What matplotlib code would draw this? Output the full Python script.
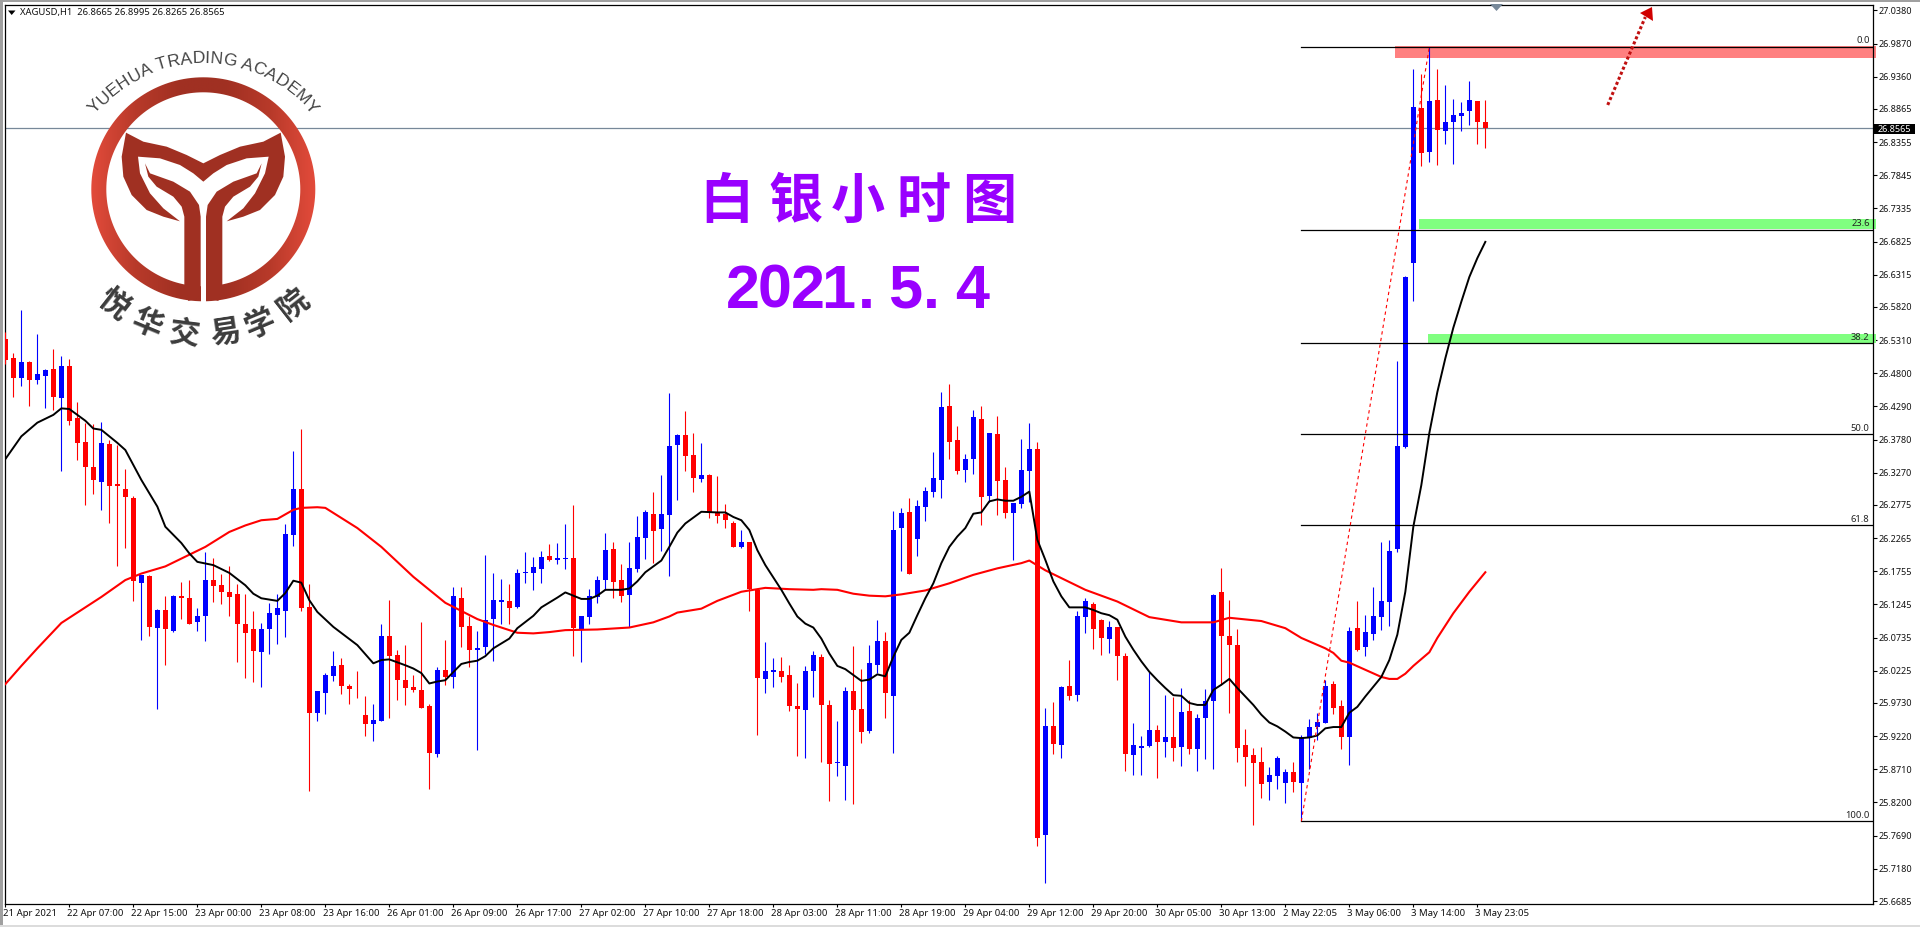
"""
XAGUSD H1 chart, MT4 style, with the academy logo on top.
"""

import numpy as np
import matplotlib
matplotlib.use("Agg")
import matplotlib.pyplot as plt
from matplotlib.colors import LinearSegmentedColormap
from matplotlib.patches import PathPatch, Polygon, Rectangle
from matplotlib.path import Path
from matplotlib.textpath import TextToPath
from matplotlib.font_manager import FontProperties
from matplotlib.transforms import ScaledTranslation

# ── Candles ────────────────────────────────────────────────────────────────────
opens = [
    26.532, 26.503, 26.472, 26.497, 26.469, 26.476, 26.487, 26.442, 26.491, 26.411,
    26.374, 26.336, 26.313, 26.371, 26.310, 26.302, 26.288, 26.158, 26.168, 26.088,
    26.116, 26.084, 26.138, 26.134, 26.097, 26.107, 26.162, 26.154, 26.144, 26.141,
    26.094, 26.087, 26.051, 26.087, 26.108, 26.114, 26.231, 26.302, 26.121, 25.958,
    25.988, 26.015, 26.031, 25.999, 25.995, 25.955, 25.941, 25.945, 26.076, 26.047,
    26.008, 25.998, 25.993, 25.968, 25.895, 26.024, 26.013, 26.134, 26.091, 26.055,
    26.059, 26.102, 26.129, 26.130, 26.121, 26.173, 26.173, 26.179, 26.199, 26.193,
    26.194, 26.196, 26.085, 26.105, 26.136, 26.162, 26.210, 26.162, 26.139, 26.179,
    26.227, 26.264, 26.241, 26.262, 26.370, 26.385, 26.354, 26.317, 26.324, 26.265,
    26.264, 26.250, 26.213, 26.221, 26.147, 26.010, 26.021, 26.022, 26.016, 25.968,
    25.962, 26.022, 26.044, 25.970, 25.881, 25.876, 25.991, 25.964, 25.930, 26.031,
    26.068, 25.984, 26.242, 26.267, 26.225, 26.274, 26.297, 26.316, 26.430, 26.377,
    26.331, 26.348, 26.410, 26.291, 26.387, 26.316, 26.265, 26.279, 26.330, 26.364,
    25.770, 25.938, 25.909, 25.999, 25.985, 26.105, 26.125, 26.101, 26.071, 26.090,
    26.045, 25.893, 25.904, 25.907, 25.932, 25.913, 25.921, 25.905, 25.961, 25.902,
    25.950, 25.976, 26.144, 26.076, 26.062, 25.909, 25.893, 25.882, 25.852, 25.861,
    25.850, 25.867, 25.850, 25.919, 25.936, 25.942, 26.002, 25.968, 25.921, 26.088,
    26.059, 26.079, 26.105, 26.128, 26.210, 26.367, 26.650, 26.888, 26.820, 26.900,
    26.852, 26.866, 26.876, 26.883, 26.899, 26.8665,
]
highs = [
    26.544, 26.511, 26.578, 26.499, 26.540, 26.486, 26.517, 26.507, 26.502, 26.436,
    26.403, 26.402, 26.405, 26.377, 26.370, 26.333, 26.292, 26.170, 26.170, 26.118,
    26.138, 26.139, 26.159, 26.162, 26.119, 26.205, 26.196, 26.171, 26.184, 26.156,
    26.141, 26.114, 26.096, 26.127, 26.141, 26.248, 26.360, 26.394, 26.156, 25.991,
    26.019, 26.053, 26.042, 26.002, 26.022, 25.984, 25.972, 26.094, 26.131, 26.054,
    26.062, 26.016, 26.098, 25.972, 26.028, 26.070, 26.151, 26.151, 26.107, 26.084,
    26.201, 26.173, 26.164, 26.156, 26.179, 26.205, 26.198, 26.207, 26.218, 26.219,
    26.248, 26.277, 26.107, 26.148, 26.168, 26.234, 26.221, 26.187, 26.221, 26.261,
    26.270, 26.297, 26.324, 26.450, 26.387, 26.422, 26.388, 26.373, 26.325, 26.322,
    26.279, 26.253, 26.239, 26.221, 26.147, 26.067, 26.042, 26.044, 26.031, 26.004,
    26.030, 26.053, 26.049, 25.978, 25.945, 25.998, 26.061, 26.025, 26.062, 26.101,
    26.082, 26.268, 26.273, 26.288, 26.285, 26.305, 26.359, 26.451, 26.464, 26.399,
    26.356, 26.424, 26.430, 26.388, 26.414, 26.336, 26.281, 26.379, 26.404, 26.374,
    25.965, 25.975, 25.999, 26.039, 26.115, 26.135, 26.128, 26.102, 26.099, 26.090,
    26.050, 25.942, 25.922, 26.021, 25.939, 25.985, 25.982, 25.996, 25.978, 25.956,
    25.995, 26.141, 26.181, 26.132, 26.087, 25.933, 25.904, 25.905, 25.875, 25.892,
    25.872, 25.882, 25.924, 25.948, 25.958, 26.008, 26.007, 25.978, 26.090, 26.130,
    26.108, 26.151, 26.221, 26.224, 26.499, 26.630, 26.948, 26.940, 26.981, 26.948,
    26.923, 26.902, 26.897, 26.929, 26.899, 26.8995,
]
lows = [
    26.494, 26.444, 26.460, 26.429, 26.464, 26.426, 26.424, 26.329, 26.400, 26.347,
    26.277, 26.294, 26.270, 26.250, 26.183, 26.212, 26.130, 26.070, 26.076, 25.964,
    26.031, 26.082, 26.102, 26.095, 26.084, 26.068, 26.128, 26.125, 26.107, 26.036,
    26.011, 26.005, 25.998, 26.048, 26.064, 26.074, 26.214, 26.114, 25.837, 25.945,
    25.956, 26.007, 25.987, 25.972, 25.981, 25.922, 25.915, 25.945, 25.950, 25.978,
    25.970, 25.990, 25.965, 25.841, 25.890, 26.001, 25.996, 26.059, 26.028, 25.901,
    26.048, 26.038, 26.095, 26.095, 26.119, 26.158, 26.147, 26.158, 26.191, 26.187,
    26.179, 26.045, 26.036, 26.095, 26.127, 26.147, 26.134, 26.128, 26.090, 26.174,
    26.194, 26.188, 26.207, 26.168, 26.285, 26.330, 26.297, 26.313, 26.257, 26.250,
    26.242, 26.213, 26.211, 26.114, 25.924, 25.988, 25.998, 26.005, 25.961, 25.892,
    25.888, 25.982, 25.882, 25.822, 25.861, 25.824, 25.818, 25.912, 25.927, 26.019,
    25.950, 25.896, 26.176, 26.171, 26.199, 26.253, 26.290, 26.288, 26.348, 26.325,
    26.313, 26.325, 26.247, 26.282, 26.262, 26.258, 26.193, 26.273, 26.282, 25.753,
    25.696, 25.895, 25.889, 25.978, 25.976, 26.081, 26.056, 26.047, 26.050, 26.008,
    25.869, 25.862, 25.862, 25.905, 25.858, 25.890, 25.884, 25.876, 25.895, 25.869,
    25.887, 25.872, 26.001, 25.958, 25.882, 25.845, 25.786, 25.827, 25.824, 25.841,
    25.819, 25.836, 25.791, 25.872, 25.916, 25.942, 25.956, 25.902, 25.878, 26.053,
    26.045, 26.070, 26.085, 26.091, 26.205, 26.365, 26.591, 26.799, 26.805, 26.800,
    26.833, 26.802, 26.852, 26.862, 26.833, 26.8265,
]
closes = [
    26.501, 26.472, 26.497, 26.469, 26.479, 26.485, 26.444, 26.491, 26.407, 26.372,
    26.336, 26.316, 26.373, 26.306, 26.306, 26.289, 26.160, 26.170, 26.090, 26.116,
    26.086, 26.138, 26.135, 26.095, 26.107, 26.162, 26.153, 26.144, 26.136, 26.095,
    26.081, 26.053, 26.087, 26.111, 26.119, 26.233, 26.302, 26.119, 25.958, 25.991,
    26.016, 26.030, 25.999, 25.995, 25.994, 25.941, 25.947, 26.076, 26.045, 26.008,
    25.996, 25.993, 25.965, 25.896, 26.024, 26.013, 26.138, 26.090, 26.054, 26.058,
    26.101, 26.131, 26.131, 26.119, 26.173, 26.174, 26.182, 26.198, 26.193, 26.196,
    26.196, 26.088, 26.107, 26.138, 26.162, 26.208, 26.159, 26.138, 26.181, 26.228,
    26.267, 26.238, 26.264, 26.368, 26.385, 26.353, 26.319, 26.324, 26.267, 26.261,
    26.254, 26.213, 26.221, 26.148, 26.011, 26.022, 26.024, 26.013, 25.968, 25.964,
    26.022, 26.047, 25.970, 25.879, 25.882, 25.991, 25.962, 25.928, 26.035, 26.068,
    25.988, 26.239, 26.265, 26.171, 26.276, 26.299, 26.319, 26.428, 26.374, 26.330,
    26.348, 26.413, 26.290, 26.388, 26.314, 26.265, 26.281, 26.331, 26.364, 25.766,
    25.938, 25.910, 25.998, 25.984, 26.107, 26.130, 26.087, 26.073, 26.090, 26.045,
    25.895, 25.909, 25.907, 25.932, 25.913, 25.921, 25.904, 25.959, 25.902, 25.950,
    25.976, 26.139, 26.076, 26.062, 25.904, 25.890, 25.881, 25.849, 25.862, 25.889,
    25.867, 25.852, 25.919, 25.936, 25.944, 25.999, 25.965, 25.921, 26.084, 26.055,
    26.082, 26.107, 26.130, 26.207, 26.368, 26.628, 26.889, 26.819, 26.899, 26.854,
    26.866, 26.877, 26.880, 26.900, 26.866, 26.8565,
]

# ── Moving averages, read at selected bars ─────────────────────────────────────
black_bars = [
    0, 2, 4, 6, 7, 8, 10, 11, 12, 14, 15, 17, 19, 20, 22, 23, 24, 26, 28, 30, 31, 32,
    34, 35, 36, 37, 38, 39, 41, 44, 46, 47, 48, 50, 51, 52, 53, 54, 55, 57, 58, 59,
    60, 61, 63, 64, 66, 67, 69, 70, 72, 73, 74, 75, 77, 78, 79, 80, 82, 83, 84, 85,
    86, 87, 89, 90, 91, 92, 93, 94, 95, 97, 98, 99, 100, 101, 102, 103, 104, 105,
    106, 107, 108, 109, 110, 111, 112, 113, 114, 115, 116, 117, 118, 119, 120, 121,
    122, 123, 124, 125, 126, 127, 128, 129, 130, 131, 132, 133, 134, 135, 136, 137,
    138, 139, 140, 141, 142, 143, 144, 145, 146, 147, 148, 149, 150, 151, 152, 153,
    154, 155, 156, 157, 158, 159, 160, 161, 162, 163, 164, 165, 166, 167, 168, 169,
    170, 171, 172, 173, 174, 175, 176, 177, 178, 179, 180, 181, 182, 183, 184, 185,
]
black_ma = [
    26.348, 26.383, 26.404, 26.416, 26.426, 26.425, 26.407, 26.395, 26.393, 26.373,
    26.362, 26.316, 26.275, 26.244, 26.219, 26.203, 26.190, 26.185, 26.173, 26.154,
    26.141, 26.134, 26.130, 26.142, 26.161, 26.158, 26.131, 26.113, 26.090, 26.062,
    26.034, 26.039, 26.040, 26.031, 26.026, 26.019, 26.003, 26.006, 26.008, 26.033,
    26.036, 26.038, 26.045, 26.057, 26.072, 26.088, 26.107, 26.120, 26.135, 26.143,
    26.133, 26.133, 26.138, 26.147, 26.147, 26.149, 26.160, 26.174, 26.192, 26.213,
    26.235, 26.249, 26.258, 26.267, 26.266, 26.266, 26.259, 26.254, 26.239, 26.208,
    26.185, 26.147, 26.126, 26.106, 26.095, 26.089, 26.072, 26.049, 26.030, 26.025,
    26.016, 26.007, 26.009, 26.017, 26.014, 26.044, 26.070, 26.081, 26.108, 26.134,
    26.157, 26.188, 26.213, 26.229, 26.242, 26.264, 26.266, 26.283, 26.286, 26.284,
    26.284, 26.290, 26.298, 26.224, 26.193, 26.160, 26.137, 26.120, 26.120, 26.120,
    26.116, 26.111, 26.108, 26.101, 26.075, 26.055, 26.037, 26.021, 26.008, 25.996,
    25.985, 25.984, 25.973, 25.970, 25.970, 25.993, 26.001, 26.010, 25.996, 25.983,
    25.970, 25.955, 25.943, 25.937, 25.929, 25.920, 25.919, 25.920, 25.923, 25.934,
    25.936, 25.936, 25.958, 25.967, 25.983, 25.998, 26.013, 26.039, 26.078, 26.144,
    26.244, 26.308, 26.388, 26.451, 26.503, 26.550, 26.590, 26.628, 26.657, 26.682,
]
red_bars = [
    0, 2, 4, 7, 9, 12, 15, 17, 20, 25, 28, 30, 32, 34, 36, 37, 39, 40, 44, 47, 51, 55,
    59, 61, 64, 66, 68, 70, 74, 78, 81, 83, 84, 87, 89, 92, 95, 98, 101, 102, 104,
    106, 108, 110, 112, 115, 118, 121, 124, 127, 128, 130, 132, 135, 139, 143, 147,
    151, 153, 157, 160, 162, 165, 166, 167, 168, 170, 172, 173, 174, 175, 176, 178,
    179, 181, 183, 185,
]
red_ma = [
    26.002, 26.030, 26.057, 26.096, 26.112, 26.136, 26.162, 26.172, 26.183, 26.213,
    26.236, 26.246, 26.254, 26.256, 26.270, 26.273, 26.274, 26.273, 26.242, 26.213,
    26.167, 26.127, 26.102, 26.093, 26.081, 26.080, 26.082, 26.085, 26.086, 26.089,
    26.097, 26.106, 26.112, 26.118, 26.130, 26.144, 26.150, 26.148, 26.147, 26.148,
    26.147, 26.141, 26.138, 26.137, 26.140, 26.146, 26.157, 26.170, 26.180, 26.188,
    26.192, 26.177, 26.165, 26.147, 26.129, 26.105, 26.097, 26.097, 26.104, 26.099,
    26.088, 26.073, 26.057, 26.050, 26.038, 26.035, 26.024, 26.013, 26.010, 26.010,
    26.018, 26.030, 26.051, 26.073, 26.111, 26.144, 26.174,
]

# ── Axis labels ────────────────────────────────────────────────────────────────
price_ticks = [
    "27.0380", "26.9870", "26.9360", "26.8865", "26.8355", "26.7845", "26.7335",
    "26.6825", "26.6315", "26.5820", "26.5310", "26.4800", "26.4290", "26.3780",
    "26.3270", "26.2775", "26.2265", "26.1755", "26.1245", "26.0735", "26.0225",
    "25.9730", "25.9220", "25.8710", "25.8200", "25.7690", "25.7180", "25.6685",
]
time_labels = [
    "21 Apr 2021", "22 Apr 07:00", "22 Apr 15:00", "23 Apr 00:00", "23 Apr 08:00",
    "23 Apr 16:00", "26 Apr 01:00", "26 Apr 09:00", "26 Apr 17:00", "27 Apr 02:00",
    "27 Apr 10:00", "27 Apr 18:00", "28 Apr 03:00", "28 Apr 11:00", "28 Apr 19:00",
    "29 Apr 04:00", "29 Apr 12:00", "29 Apr 20:00", "30 Apr 05:00", "30 Apr 13:00",
    "2 May 22:05", "3 May 06:00", "3 May 14:00", "3 May 23:05",
]

# ── Fibonacci levels and drawn zones ───────────────────────────────────────────
fib_names = ["0.0", "23.6", "38.2", "50.0", "61.8", "100.0"]
fib_prices = [26.9816, 26.7003, 26.5260, 26.3861, 26.2462, 25.7911]
fib_start_bar = 162
fib_end_bar = 178
last_price = 26.8565

zone_starts = [173.7, 176.7, 177.8]
zone_tops = [26.9832, 26.7172, 26.5403]
zone_bottoms = [26.9647, 26.7018, 26.5265]
zone_colors = ["#ff8080", "#80ff80", "#80ff80"]

arrow_from = (200.3, 26.8925)
arrow_to = (205.0, 27.0278)

W, H = 1920, 927
FONT = ["Noto Sans", "DejaVu Sans"]
CJK = ["Noto Sans CJK SC", "DejaVu Sans"]
UP, DOWN = "#0000ff", "#ff0000"
LINE_GREY = "#778899"

plt.rcParams["font.family"] = FONT

fig = plt.figure(figsize=(W / 100, H / 100), dpi=100, facecolor="white")

# Chart frame sits at 4.5..1872.5 px across and 4.5..904 px down
ax = fig.add_axes([4.5 / W, (H - 904) / H, 1868 / W, 899.5 / H])
bar_max = (1872.5 - 5.33) / 8
ax.set_xlim((4.5 - 5.33) / 8, bar_max)
ax.set_ylim(25.6639, 27.0470)

for side in ax.spines.values():
    side.set_linewidth(0.9)
    side.set_color("black")

# ── Candles ────────────────────────────────────────────────────────────────────
o = np.array(opens)
c = np.array(closes)
bars = np.arange(len(o))
colors = np.where(c > o, UP, DOWN)

ax.vlines(bars, lows, highs, colors=colors, linewidth=0.8, zorder=3)
ax.bar(bars, np.abs(c - o), bottom=np.minimum(o, c), width=0.625,
       color=colors, linewidth=0, zorder=4)

ax.plot(red_bars, red_ma, color="#ff0000", lw=1.5, zorder=5)
ax.plot(black_bars, black_ma, color="black", lw=1.4, zorder=6)

# ── Zones, fib levels, last price ──────────────────────────────────────────────
for start, top, bottom, col in zip(zone_starts, zone_tops, zone_bottoms, zone_colors):
    ax.add_patch(Rectangle((start, bottom), bar_max + 0.4 - start, top - bottom,
                           facecolor=col, edgecolor="none", zorder=2, clip_on=False))

ax.axhline(last_price, color=LINE_GREY, lw=0.9, zorder=1)

for name, level in zip(fib_names, fib_prices):
    ax.plot([fib_start_bar, bar_max], [level, level], color="black", lw=0.9, zorder=7)
    ax.annotate(name, xy=(bar_max, level), xytext=(-2, 1.2), textcoords="offset points",
                ha="right", va="bottom", fontsize=6.8, color="#222222", zorder=8)

ax.plot([fib_start_bar, fib_end_bar], [fib_prices[-1], fib_prices[0]], color="#ff0000",
        lw=0.8, linestyle=(0, (3, 3)), zorder=7)

# Target arrow shaft, the head goes on the overlay
ax.plot([arrow_from[0], arrow_to[0]], [arrow_from[1], arrow_to[1]], color="#c01010",
        lw=2.2, linestyle=(0, (1, 0.8)), zorder=7)

# ── Axes ───────────────────────────────────────────────────────────────────────
ax.yaxis.tick_right()
ax.set_yticks([float(t) for t in price_ticks])
ax.set_yticklabels(price_ticks, fontsize=6.5, color="#111111")
ax.tick_params(axis="y", length=2.9, width=0.8, pad=1.5)

ax.set_xticks(np.arange(len(time_labels)) * 8)
ax.set_xticklabels(time_labels, fontsize=6.9, color="#111111")
ax.tick_params(axis="x", length=2.2, width=0.8, pad=1.5)
nudge = ScaledTranslation(-2 / 100, 0, fig.dpi_scale_trans)
for lab in ax.get_xticklabels():
    lab.set_horizontalalignment("left")
    lab.set_transform(lab.get_transform() + nudge)

# ── Overlay in pixel coordinates: window edge, header, titles, logo ────────────
ov = fig.add_axes([0, 0, 1, 1], facecolor="none", zorder=10)
ov.set_xlim(0, W)
ov.set_ylim(H, 0)
ov.axis("off")

ov.add_patch(Rectangle((0, 0), 2.5, H, color="#a0a0a0", lw=0))
ov.add_patch(Rectangle((0, 0), W, 1.5, color="#a0a0a0", lw=0))
ov.add_patch(Rectangle((0, 924.5), W, 2.5, color="#dcdcdc", lw=0))

ov.add_patch(Polygon([[8, 10.5], [15.5, 10.5], [11.7, 15]], color="black", lw=0))
ov.text(20, 12.7, "XAGUSD,H1  26.8665 26.8995 26.8265 26.8565", fontsize=6.8,
        color="#111111", va="center", ha="left")
ov.add_patch(Polygon([[1490, 4], [1503, 4], [1496.5, 11]], color=LINE_GREY, lw=0))

# Arrow head
ov.add_patch(Polygon([[1652, 7], [1640, 13], [1653, 21]], color="#d00000", lw=0))

# last price tag on the scale
ov.add_patch(Rectangle((1874, 124), 41, 10, color="black", lw=0))
ov.text(1878, 129, "%.4f" % last_price, fontsize=6.5, color="white", va="center", ha="left")

# Big titles, spaced out one glyph at a time
title_cn = "白银小时图"
title_cn_x = [726, 795, 858, 923, 989]
for ch, x in zip(title_cn, title_cn_x):
    ov.text(x, 202, ch, fontsize=39, color="#9900ff", ha="center", va="center",
            family=CJK, fontweight="bold")

title_date = "2021.5.4"
title_date_x = [743, 775, 808, 838, 866, 905, 931, 972]
for ch, x in zip(title_date, title_date_x):
    ov.text(x, 308, ch, fontsize=44, color="#9900ff", ha="center", va="baseline",
            family="Liberation Sans", fontweight="bold")

# ── Logo ───────────────────────────────────────────────────────────────────────
LOGO_X, LOGO_Y = 203.3, 189.3


def logo_xy(points, mirror=False):
    pts = np.array(points, dtype=float)
    if mirror:
        pts[:, 0] = 1220 - pts[:, 0]
    return pts / 3.0


crown = [
    (378, 398), (430, 425), (500, 440), (560, 465), (610, 490), (660, 465), (720, 440),
    (790, 425), (842, 398), (855, 470), (850, 530), (825, 585), (780, 630), (730, 650),
    (680, 664), (730, 625), (765, 580), (795, 520), (806, 470), (740, 475), (680, 495),
    (640, 520), (610, 545), (580, 520), (540, 495), (480, 475), (414, 470), (420, 520),
    (450, 580), (490, 625), (540, 664), (490, 650), (440, 630), (395, 585), (370, 530),
    (365, 470), (378, 398),
]
stem = [
    (435, 490), (450, 520), (520, 545), (570, 575), (597, 615), (602, 650), (602, 875),
    (590, 895), (565, 903), (553, 855), (553, 650), (545, 620), (520, 590), (470, 560),
    (445, 530), (435, 490),
]


def closed_path(points):
    codes = [Path.MOVETO] + [Path.LINETO] * (len(points) - 2) + [Path.CLOSEPOLY]
    return Path(points, codes)


ring_angles = np.linspace(0, 2 * np.pi, 181)
ring_outer = np.c_[LOGO_X + 112 * np.cos(ring_angles), LOGO_Y + 112 * np.sin(ring_angles)]
ring_inner = np.c_[LOGO_X + 97 * np.cos(ring_angles[::-1]), LOGO_Y + 97 * np.sin(ring_angles[::-1])]
logo_path = Path.make_compound_path(closed_path(ring_outer), closed_path(ring_inner))

fade = LinearSegmentedColormap.from_list(
    "logo", ["#e34b3b", "#b83a2a", "#a03022", "#a03022", "#b83a2a", "#e34b3b"])
sheen = ov.imshow(np.linspace(0, 1, 256).reshape(1, -1), cmap=fade, aspect="auto",
                  extent=(LOGO_X - 113, LOGO_X + 113, LOGO_Y + 113, LOGO_Y - 113), zorder=11)
sheen.set_clip_path(PathPatch(logo_path, transform=ov.transData))
ov.set_xlim(0, W)
ov.set_ylim(H, 0)

ov.add_patch(Polygon(logo_xy(crown), color="#a03022", lw=0, zorder=12))
ov.add_patch(Polygon(logo_xy(stem), color="#a03022", lw=0, zorder=12))
ov.add_patch(Polygon(logo_xy(stem, mirror=True), color="#a03022", lw=0, zorder=12))
# white slit between the two stems cuts through the ring
ov.add_patch(Rectangle((LOGO_X - 2.6, 215), 5.2, 90, color="white", lw=0, zorder=13))

# Latin name runs over the top on an arc
name_en = "YUEHUA TRADING ACADEMY"
en_font = FontProperties(family="Liberation Sans", size=12.6)
measure = TextToPath()
en_widths = [measure.get_text_width_height_descent(ch, en_font, False)[0] * 100 / 72
             for ch in name_en]
arc_r = 140.0
arc_pos = np.cumsum(en_widths) - np.array(en_widths) / 2 - sum(en_widths) / 2
for ch, s in zip(name_en, arc_pos):
    th = s / arc_r
    ov.text(LOGO_X + arc_r * np.sin(th), 203 - arc_r * np.cos(th), ch, fontproperties=en_font,
            color="#444444", rotation=-np.degrees(th), rotation_mode="anchor",
            ha="center", va="baseline", zorder=14)

# Chinese name under the ring
name_cn = "悦华交易学院"
cn_angles = [-38, -22.6, -7.4, 8.7, 22.8, 38]
for ch, deg in zip(name_cn, cn_angles):
    th = np.radians(deg)
    ov.text(LOGO_X + 146 * np.sin(th), LOGO_Y + 146 * np.cos(th), ch, fontsize=22,
            family=CJK, fontweight="bold", color="#3c3c3c", rotation=deg,
            rotation_mode="anchor", ha="center", va="center", zorder=14)

fig.savefig("out.png", dpi=100)
